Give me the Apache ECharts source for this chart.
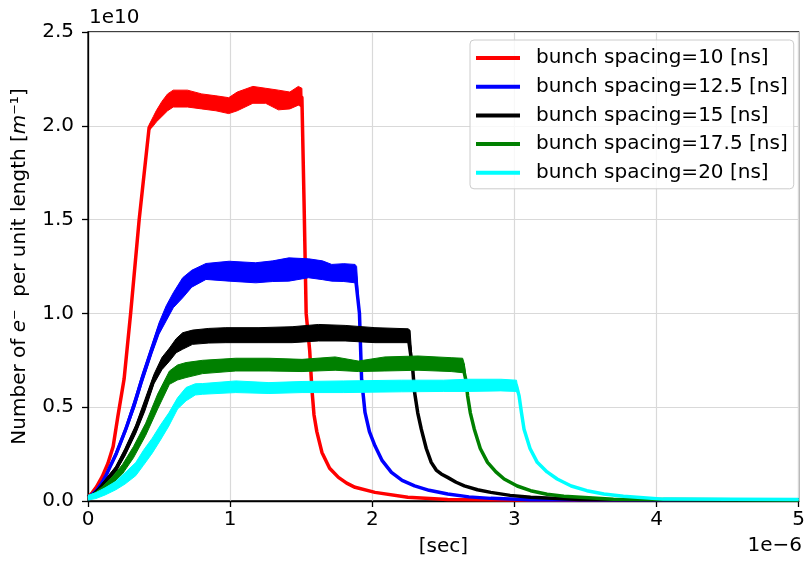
<!DOCTYPE html>
<html>
<head>
<meta charset="utf-8">
<script src="https://cdn.jsdelivr.net/npm/echarts@6/dist/echarts.min.js"></script>
<style>
html,body{margin:0;padding:0;background:#fff;}
#chart{width:808px;height:562px;}
</style>
</head>
<body>
<div id="chart"></div>
<script>
// x in units of 1e-6 s, y in units of 1e10 m^-1
const seriesNames = ['bunch spacing=10 [ns]','bunch spacing=12.5 [ns]','bunch spacing=15 [ns]','bunch spacing=17.5 [ns]','bunch spacing=20 [ns]'];
const seriesColors = ['#ff0000','#0000ff','#000000','#008000','#00ffff'];
const xTicks = [0,1,2,3,4,5];
const yTicks = [0,0.5,1.0,1.5,2.0,2.5];

// Hi / Lo = upper and lower edge of the (noisy) curve band
const redX  = [0,0.03,0.06,0.10,0.14,0.177,0.21,0.254,0.30,0.36,0.43,0.46,0.48,0.52,0.56,0.60,0.70,0.80,0.90,0.99,1.05,1.16,1.25,1.34,1.42,1.48,1.505,1.52,1.535,1.56,1.575,1.59,1.61,1.646,1.70,1.762,1.82,1.879,2.019,2.25,2.53,3.0,5.0];
const redHi = [0.025,0.05,0.08,0.135,0.205,0.295,0.455,0.655,1.005,1.505,2.005,2.05,2.08,2.13,2.17,2.19,2.19,2.17,2.16,2.15,2.18,2.21,2.20,2.19,2.18,2.21,2.20,1.6,1.0,0.8,0.6,0.46,0.37,0.259,0.175,0.126,0.095,0.073,0.046,0.02,0.008,0.005,0.004];
const redLo = [0.015,0.04,0.07,0.125,0.195,0.285,0.445,0.645,0.995,1.495,1.975,2.0,2.02,2.05,2.08,2.10,2.10,2.09,2.08,2.065,2.08,2.12,2.12,2.085,2.09,2.11,2.10,1.6,1.0,0.8,0.6,0.46,0.37,0.259,0.175,0.126,0.095,0.073,0.046,0.02,0.008,0.005,0.004];

const blueX  = [0,0.03,0.06,0.10,0.126,0.16,0.20,0.266,0.33,0.38,0.45,0.50,0.55,0.60,0.666,0.73,0.83,0.993,1.18,1.3,1.413,1.552,1.65,1.715,1.8,1.879,1.89,1.91,1.925,1.949,1.98,2.019,2.07,2.135,2.21,2.298,2.4,2.531,2.68,2.834,3.11,5.0];
const blueHi = [0.025,0.042,0.063,0.11,0.145,0.2,0.27,0.4,0.55,0.675,0.835,0.95,1.04,1.11,1.19,1.23,1.266,1.278,1.27,1.28,1.296,1.291,1.28,1.261,1.265,1.261,1.25,1.0,0.649,0.472,0.37,0.294,0.215,0.153,0.11,0.081,0.057,0.037,0.022,0.014,0.007,0.004];
const blueLo = [0.015,0.028,0.047,0.09,0.125,0.18,0.24,0.366,0.5,0.625,0.785,0.89,0.96,1.03,1.083,1.14,1.181,1.172,1.163,1.17,1.172,1.19,1.18,1.172,1.17,1.163,1.17,1.0,0.649,0.472,0.37,0.294,0.215,0.153,0.11,0.081,0.057,0.037,0.022,0.014,0.007,0.004];

const blackX  = [0,0.04,0.079,0.13,0.196,0.26,0.336,0.40,0.464,0.52,0.573,0.62,0.666,0.736,0.85,0.97,1.203,1.436,1.622,1.809,2.019,2.252,2.266,2.285,2.298,2.32,2.345,2.38,2.415,2.45,2.485,2.53,2.59,2.648,2.74,2.834,2.97,3.114,3.46,5.0];
const blackHi = [0.025,0.043,0.073,0.122,0.185,0.28,0.405,0.54,0.675,0.765,0.815,0.865,0.897,0.911,0.92,0.924,0.924,0.929,0.941,0.936,0.924,0.918,0.91,0.7,0.578,0.47,0.383,0.28,0.206,0.165,0.144,0.126,0.1,0.081,0.06,0.046,0.03,0.02,0.008,0.004];
const blackLo = [0.015,0.027,0.055,0.098,0.155,0.24,0.36,0.48,0.625,0.7,0.745,0.79,0.809,0.835,0.842,0.844,0.844,0.844,0.853,0.853,0.844,0.844,0.85,0.7,0.578,0.47,0.383,0.28,0.206,0.165,0.144,0.126,0.1,0.081,0.06,0.046,0.03,0.02,0.008,0.004];

const greenX  = [0,0.05,0.103,0.17,0.243,0.32,0.406,0.49,0.573,0.63,0.69,0.806,1.04,1.273,1.506,1.739,1.902,2.089,2.322,2.555,2.636,2.648,2.66,2.671,2.69,2.718,2.76,2.811,2.87,2.928,3.02,3.114,3.23,3.348,3.697,5.0];
const greenHi = [0.025,0.045,0.078,0.128,0.195,0.29,0.415,0.57,0.693,0.725,0.738,0.75,0.761,0.761,0.755,0.768,0.746,0.768,0.773,0.764,0.761,0.73,0.64,0.56,0.47,0.383,0.28,0.206,0.155,0.117,0.08,0.055,0.036,0.025,0.009,0.005];
const greenLo = [0.015,0.025,0.05,0.092,0.145,0.23,0.35,0.49,0.622,0.645,0.658,0.679,0.693,0.693,0.69,0.697,0.69,0.693,0.697,0.69,0.684,0.73,0.64,0.56,0.47,0.383,0.28,0.206,0.155,0.117,0.08,0.055,0.036,0.025,0.009,0.005];

const cyanX  = [0,0.056,0.12,0.196,0.26,0.336,0.39,0.452,0.51,0.569,0.63,0.69,0.755,0.806,1.04,1.273,1.506,1.8,2.205,2.5,2.671,2.904,3.015,3.033,3.05,3.068,3.11,3.161,3.23,3.301,3.4,3.51,3.63,3.767,4.047,5.0];
const cyanHi = [0.03,0.045,0.07,0.105,0.15,0.205,0.27,0.335,0.405,0.47,0.55,0.605,0.625,0.626,0.64,0.631,0.637,0.64,0.644,0.644,0.649,0.649,0.644,0.56,0.47,0.383,0.28,0.206,0.155,0.117,0.08,0.055,0.037,0.025,0.01,0.008];
const cyanLo = [0.005,0.013,0.032,0.06,0.09,0.135,0.19,0.255,0.325,0.4,0.49,0.534,0.565,0.569,0.578,0.573,0.578,0.578,0.582,0.584,0.584,0.587,0.584,0.56,0.47,0.383,0.28,0.206,0.155,0.117,0.08,0.055,0.037,0.025,0.01,0.008];

const curves = [
  [redX, redHi, redLo],
  [blueX, blueHi, blueLo],
  [blackX, blackHi, blackLo],
  [greenX, greenHi, greenLo],
  [cyanX, cyanHi, cyanLo]
];

const FONT = 'DejaVu Sans';
const series = [];
curves.forEach(function (c, k) {
  const X = c[0], Hi = c[1], Lo = c[2];
  const color = seriesColors[k];
  series.push({
    type: 'custom',
    name: 'band' + k,
    coordinateSystem: 'cartesian2d',
    data: [[X[0], Hi[0]]],
    silent: true,
    clip: true,
    z: 2 + k,
    renderItem: function (params, api) {
      const pts = [];
      for (let i = 0; i < X.length; i++) pts.push(api.coord([X[i], Hi[i]]));
      for (let i = X.length - 1; i >= 0; i--) pts.push(api.coord([X[i], Lo[i]]));
      return { type: 'polygon', shape: { points: pts }, style: { fill: color, stroke: color, lineWidth: 1 } };
    }
  });
  series.push({
    type: 'line',
    name: seriesNames[k],
    data: X.map(function (x, i) { return [x, (Hi[i] + Lo[i]) / 2]; }),
    showSymbol: false,
    symbol: 'none',
    clip: true,
    z: 2 + k,
    lineStyle: { color: color, width: 3.5, join: 'round' },
    itemStyle: { color: color },
    emphasis: { disabled: true }
  });
});

const chart = echarts.init(document.getElementById('chart'), null, { renderer: 'canvas' });
chart.setOption({
  animation: false,
  backgroundColor: '#ffffff',
  textStyle: { fontFamily: FONT },
  grid: { left: 88, right: 5, top: 32, bottom: 60, show: true, borderColor: '#000', borderWidth: 1.3, backgroundColor: 'transparent' },
  legend: {
    data: seriesNames,
    orient: 'vertical',
    left: 470,
    top: 40,
    padding: [8, 6, 6, 6],
    itemGap: 8.7,
    itemWidth: 44,
    itemHeight: 4,
    icon: 'rect',
    backgroundColor: 'rgba(255,255,255,0.8)',
    borderColor: '#cccccc',
    borderWidth: 1,
    borderRadius: 4,
    textStyle: { fontFamily: FONT, fontSize: 20, color: '#000', lineHeight: 20, padding: [0, 0, 0, 11] }
  },
  graphic: [
    { type: 'text', left: 89, top: 8, style: { text: '1e10', font: '20px "DejaVu Sans"', fill: '#000' } },
    { type: 'text', right: 6, top: 536, style: { text: '1e\u22126', font: '20px "DejaVu Sans"', fill: '#000' } }
  ],
  xAxis: {
    type: 'value', min: 0, max: 5, interval: 1,
    name: '[sec]', nameLocation: 'middle', nameGap: 36,
    nameTextStyle: { fontFamily: FONT, fontSize: 20, color: '#000' },
    axisLine: { show: true, lineStyle: { color: '#000', width: 1.3 } },
    axisTick: { show: true, inside: false, length: 6, lineStyle: { color: '#000', width: 1.3 } },
    axisLabel: { fontFamily: FONT, fontSize: 20, color: '#000', margin: 9,
      formatter: function (v) { return xTicks.indexOf(v) >= 0 ? String(v) : ''; } },
    splitLine: { show: true, lineStyle: { color: '#d9d9d9', width: 1.2 } }
  },
  yAxis: {
    type: 'value', min: 0, max: 2.5, interval: 0.5,
    name: 'Number of {it|e}\u207B  per unit length [{it|m}\u207B\u00B9]',
    nameLocation: 'middle', nameGap: 58, nameRotate: 90,
    nameTextStyle: {
      fontFamily: FONT, fontSize: 20, color: '#000',
      rich: {
        it: { fontFamily: FONT, fontSize: 20, fontStyle: 'italic', color: '#000' }
      }
    },
    axisLine: { show: true, lineStyle: { color: '#000', width: 1.3 } },
    axisTick: { show: true, inside: false, length: 6, lineStyle: { color: '#000', width: 1.3 } },
    axisLabel: { fontFamily: FONT, fontSize: 20, color: '#000', margin: 14,
      formatter: function (v) { return yTicks.some(function (t) { return Math.abs(t - v) < 1e-9; }) ? v.toFixed(1) : ''; } },
    splitLine: { show: true, lineStyle: { color: '#d9d9d9', width: 1.2 } }
  },
  series: series
});
</script>
</body>
</html>
